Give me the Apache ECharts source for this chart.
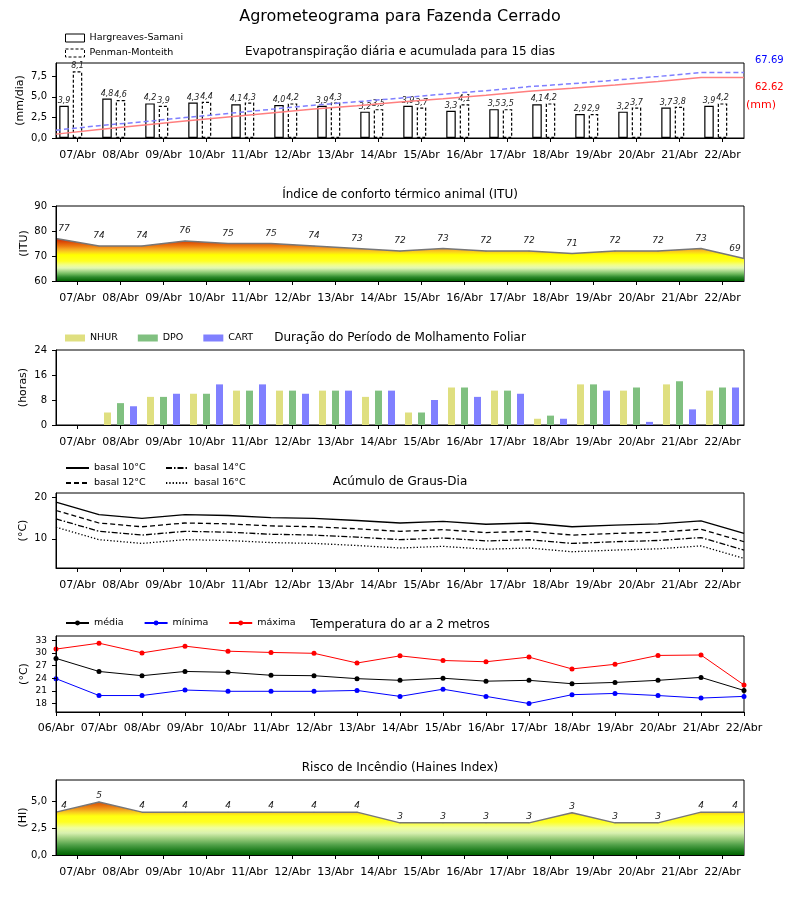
<!DOCTYPE html>
<html><head><meta charset="utf-8">
<script src="https://cdn.jsdelivr.net/npm/echarts@6/dist/echarts.min.js"></script>
<style>html,body{margin:0;padding:0;background:#fff}#c{width:800px;height:900px}</style>
</head><body><div id="c"></div>
<script>
// ---------- DATA ----------
const days16 = ['07/Abr','08/Abr','09/Abr','10/Abr','11/Abr','12/Abr','13/Abr','14/Abr','15/Abr','16/Abr','17/Abr','18/Abr','19/Abr','20/Abr','21/Abr','22/Abr'];
const days17 = ['06/Abr','07/Abr','08/Abr','09/Abr','10/Abr','11/Abr','12/Abr','13/Abr','14/Abr','15/Abr','16/Abr','17/Abr','18/Abr','19/Abr','20/Abr','21/Abr','22/Abr'];

const etHS = [3.9,4.8,4.2,4.3,4.1,4.0,3.9,3.2,3.9,3.3,3.5,4.1,2.9,3.2,3.7,3.9];
const etPM = [8.1,4.6,3.9,4.4,4.3,4.2,4.3,3.5,3.7,4.1,3.5,4.2,2.9,3.7,3.8,4.2];
const etHSacc = [4.0,8.9,13.2,17.6,21.8,25.9,29.9,33.2,37.2,40.6,44.2,48.4,51.4,54.7,58.5,62.62,62.62];
const etPMacc = [8.1,12.7,16.7,21.1,25.4,29.6,33.9,37.5,41.2,45.3,48.9,53.1,56.1,59.8,63.6,67.69,67.69];
const etTotals = ['67.69','62.62'];

const itu = [77,74,74,76,75,75,74,73,72,73,72,72,71,72,72,73,69];

const nhur = [0,4,9,10,11,11,11,9,4,12,11,2,13,11,13,11];
const dpo  = [0,7,9,10,11,11,11,11,4,12,11,3,13,12,14,12];
const cart = [0,6,10,13,13,10,11,11,8,9,10,2,11,1,5,12];

const gd10 = [18.8,15.8,14.9,15.8,15.6,15.1,14.9,14.4,13.8,14.2,13.5,13.8,12.9,13.3,13.6,14.3,11.3];
const gd12 = [16.8,13.8,12.9,13.8,13.6,13.1,12.9,12.4,11.8,12.2,11.5,11.8,10.9,11.3,11.6,12.3,9.3];
const gd14 = [14.8,11.8,10.9,11.8,11.6,11.1,10.9,10.4,9.8,10.2,9.5,9.8,8.9,9.3,9.6,10.3,7.3];
const gd16 = [12.8,9.8,8.9,9.8,9.6,9.1,8.9,8.4,7.8,8.2,7.5,7.8,6.9,7.3,7.6,8.3,5.3];

const tMed = [28.7,25.6,24.6,25.6,25.4,24.7,24.6,23.9,23.5,24.0,23.3,23.5,22.7,23.0,23.5,24.2,21.1];
const tMin = [23.9,19.9,19.9,21.2,20.9,20.9,20.9,21.1,19.7,21.4,19.7,18.0,20.1,20.4,19.9,19.3,19.7];
const tMax = [30.9,32.3,30.0,31.6,30.4,30.1,29.9,27.6,29.3,28.2,27.9,29.0,26.2,27.3,29.4,29.5,22.4];

const haines = [4,4.95,4,4,4,4,4,4,3,3,3,3,3.95,3,3,4,4];
const hainesLabels = ['4','5','4','4','4','4','4','4','3','3','3','3','3','3','3','4','4'];

const ticksET = [0,2.5,5,7.5];
const ticksGD = [10,20];
const ticksT = [18,21,24,27,30,33];
const ticksHI = [0,2.5,5];

// ---------- LAYOUT / STYLE ----------
const FONT = 'DejaVu Sans';
const G = [{top:63,h:75},{top:206,h:75},{top:350,h:75},{top:493,h:75},{top:636,h:76},{top:780,h:75}];
const comma1 = v => Number(v).toFixed(1).replace('.', ',');
const grid = G.map(g => ({left:56, right:56, top:g.top, height:g.h, show:true, borderColor:'#000', borderWidth:1, backgroundColor:'transparent'}));

function visX(gi, data, bgap, margin) {
  return {type:'category', gridIndex:gi, data:data, boundaryGap:bgap, z:5,
    axisLine:{show:true, lineStyle:{color:'#000', width:1}},
    axisTick:{show:true, alignWithLabel:true, length:4, interval:0, lineStyle:{color:'#000'}},
    axisLabel:{show:true, interval:0, color:'#000', fontFamily:FONT, fontSize:11, margin:margin},
    splitLine:{show:false}};
}
function hidX(gi) {
  return {type:'category', gridIndex:gi, data:days17, boundaryGap:false, show:false};
}
function valY(gi, min, max, name, gap, opts) {
  const o = {type:'value', gridIndex:gi, min:min, max:max, z:5,
    splitLine:{show:false},
    axisLine:{show:true, lineStyle:{color:'#000', width:1}},
    axisTick:{show:true, length:4, lineStyle:{color:'#000'}},
    axisLabel:{color:'#000', fontFamily:FONT, fontSize:10, margin:9},
    name:name, nameLocation:'middle', nameGap:gap, nameMoveOverlap:false,
    nameTextStyle:{color:'#000', fontFamily:FONT, fontSize:11}};
  if (opts.interval) o.interval = opts.interval;
  if (opts.custom) { o.axisTick.customValues = opts.custom; o.axisLabel.customValues = opts.custom; }
  if (opts.fmt) o.axisLabel.formatter = opts.fmt;
  if (opts.fontSize) o.axisLabel.fontSize = opts.fontSize;
  return o;
}

const G2top = G[1].top, G2bot = G[1].top + G[1].h;
const ituGrad = new echarts.graphic.LinearGradient(0, G2top, 0, G2bot, [
  {offset:0, color:'#b00000'},
  {offset:0.43, color:'#c8200a'},
  {offset:0.48, color:'#dc4c06'},
  {offset:0.533, color:'#ec7a10'},
  {offset:0.573, color:'#f5a623'},
  {offset:0.613, color:'#fbd31c'},
  {offset:0.653, color:'#ffff00'},
  {offset:0.733, color:'#ffff22'},
  {offset:0.787, color:'#f2ff8a'},
  {offset:0.827, color:'#e2f8b4'},
  {offset:0.867, color:'#a8d88c'},
  {offset:0.907, color:'#6cb85c'},
  {offset:0.947, color:'#2e8a2e'},
  {offset:1, color:'#006400'}
], true);
const G6top = G[5].top, G6bot = G[5].top + G[5].h;
const hiGrad = new echarts.graphic.LinearGradient(0, G6top, 0, G6bot, [
  {offset:0, color:'#b00000'},
  {offset:0.28, color:'#d24a08'},
  {offset:0.333, color:'#e36a0c'},
  {offset:0.387, color:'#f09a1c'},
  {offset:0.427, color:'#f8c820'},
  {offset:0.48, color:'#ffff10'},
  {offset:0.56, color:'#ffff22'},
  {offset:0.64, color:'#f0ffa0'},
  {offset:0.707, color:'#d8f0b0'},
  {offset:0.773, color:'#a0d080'},
  {offset:0.867, color:'#50a048'},
  {offset:0.947, color:'#1a7a1a'},
  {offset:1, color:'#006400'}
], true);

function edgeLabels(arr) {
  const n = arr.length;
  return arr.map((v, i) => i === 0 ? {value:v, label:{offset:[8,0]}} : (i === n-1 ? {value:v, label:{offset:[-9,0]}} : v));
}
const lblStyle = {color:'#222', fontFamily:FONT, fontSize:9, fontStyle:'italic'};
const titleStyle = {color:'#000', fontFamily:FONT, fontSize:12, fontWeight:'normal'};
const legText = {color:'#000', fontFamily:FONT, fontSize:9.5};

const option = {
  animation:false,
  backgroundColor:'#fff',
  textStyle:{fontFamily:FONT},
  title:[
    {text:'Agrometeograma para Fazenda Cerrado', left:'center', top:9, padding:0, textStyle:{color:'#000', fontFamily:FONT, fontSize:16, fontWeight:'normal'}},
    {text:'Evapotranspiração diária e acumulada para 15 dias', left:'center', top:46, padding:0, textStyle:titleStyle},
    {text:'Índice de conforto térmico animal (ITU)', left:'center', top:189, padding:0, textStyle:titleStyle},
    {text:'Duração do Período de Molhamento Foliar', left:'center', top:332, padding:0, textStyle:titleStyle},
    {text:'Acúmulo de Graus-Dia', left:'center', top:476, padding:0, textStyle:titleStyle},
    {text:'Temperatura do ar a 2 metros', left:'center', top:619, padding:0, textStyle:titleStyle},
    {text:'Risco de Incêndio (Haines Index)', left:'center', top:762, padding:0, textStyle:titleStyle}
  ],
  legend:[
    {orient:'vertical', left:65, top:33, itemWidth:19, itemHeight:8, itemGap:5, selectedMode:false, textStyle:legText, padding:0,
      data:[{name:'Hargreaves-Samani', icon:'rect', itemStyle:{color:'#fff', borderColor:'#000', borderWidth:1}},
            {name:'Penman-Monteith', icon:'rect', itemStyle:{color:'#fff', borderColor:'#000', borderWidth:1, borderType:[3,2]}}]},
    {orient:'horizontal', left:65, top:333, itemWidth:20, itemHeight:7, itemGap:20, selectedMode:false, textStyle:legText, padding:0,
      data:[{name:'NHUR', icon:'rect'},{name:'DPO', icon:'rect'},{name:'CART', icon:'rect'}]},
    {orient:'vertical', left:65, top:463, itemWidth:23, itemHeight:8, itemGap:5, selectedMode:false, textStyle:legText, padding:0,
      itemStyle:{opacity:0}, data:['basal 10°C','basal 12°C']},
    {orient:'vertical', left:165, top:463, itemWidth:23, itemHeight:8, itemGap:5, selectedMode:false, textStyle:legText, padding:0,
      itemStyle:{opacity:0}, data:['basal 14°C','basal 16°C']},
    {orient:'horizontal', left:65, top:618, itemWidth:23, itemHeight:6, itemGap:20, selectedMode:false, textStyle:legText, padding:0,
      data:['média','mínima','máxima']}
  ],
  grid: grid,
  xAxis:[
    visX(0, days16, true, 12), hidX(0),
    visX(1, days16, true, 12), hidX(1),
    visX(2, days16, true, 12),
    visX(3, days16, true, 12), hidX(3),
    visX(4, days17, false, 11),
    visX(5, days16, true, 12), hidX(5)
  ],
  yAxis:[
    valY(0, 0, 9.1, '(mm/dia)', 30, {custom:ticksET, fmt:comma1}),
    {type:'value', gridIndex:0, min:0, max:77.5, show:false, splitLine:{show:false}},
    valY(1, 60, 90, '(ITU)', 26, {interval:10}),
    valY(2, 0, 24, '(horas)', 27, {interval:8}),
    valY(3, 3, 21, '(°C)', 27, {custom:ticksGD}),
    valY(4, 16, 34, '(°C)', 26, {custom:ticksT, fontSize:9}),
    valY(5, 0, 7, '(HI)', 27, {custom:ticksHI, fmt:comma1})
  ],
  graphic:[
    {type:'text', left:755, top:55, style:{text:etTotals[0], fill:'#0000ff', font:'10px "DejaVu Sans"'}},
    {type:'text', left:755, top:82, style:{text:etTotals[1], fill:'#ff0000', font:'10px "DejaVu Sans"'}},
    {type:'text', left:746, top:100, style:{text:'(mm)', fill:'#ff0000', font:'11px "DejaVu Sans"'}}
  ],
  series:[
    // Panel 1
    {type:'bar', name:'Hargreaves-Samani', xAxisIndex:0, yAxisIndex:0, data:etHS, barWidth:9.5, barGap:'42%',
      itemStyle:{color:'#fff', borderColor:'#000', borderWidth:1.2},
      label:{show:true, position:'top', distance:1, color:'#222', fontFamily:FONT, fontSize:8, fontStyle:'italic', formatter:p=>comma1(p.value)}},
    {type:'bar', name:'Penman-Monteith', xAxisIndex:0, yAxisIndex:0, data:etPM, barWidth:9.5, barGap:'42%',
      itemStyle:{color:'#fff', borderColor:'#000', borderWidth:1.2, borderType:[3,2]},
      label:{show:true, position:'top', distance:1, color:'#222', fontFamily:FONT, fontSize:8, fontStyle:'italic', formatter:p=>comma1(p.value)}},
    {type:'bar', name:'spacer', xAxisIndex:0, yAxisIndex:0, data:[], barWidth:9.5, barGap:'42%', silent:true},
    {type:'line', name:'acumHS', xAxisIndex:1, yAxisIndex:1, data:etHSacc, symbol:'none', z:6, silent:true,
      lineStyle:{color:'#ff7f7f', width:1.5}},
    {type:'line', name:'acumPM', xAxisIndex:1, yAxisIndex:1, data:etPMacc, symbol:'none', z:6, silent:true,
      lineStyle:{color:'#7f7fff', width:1.5, type:[5,3]}},
    // Panel 2
    {type:'line', name:'ITU', xAxisIndex:3, yAxisIndex:2, data:edgeLabels(itu), symbol:'circle', symbolSize:1, silent:true,
      itemStyle:{color:'#777'}, lineStyle:{color:'#777', width:1.5},
      areaStyle:{color:ituGrad, opacity:1, origin:'start'},
      label:Object.assign({show:true, position:'top', distance:5}, lblStyle)},
    // Panel 3
    {type:'bar', name:'NHUR', xAxisIndex:4, yAxisIndex:3, data:nhur, barWidth:7, barGap:'86%', itemStyle:{color:'#dfdf80'}},
    {type:'bar', name:'DPO', xAxisIndex:4, yAxisIndex:3, data:dpo, barWidth:7, barGap:'86%', itemStyle:{color:'#80c080'}},
    {type:'bar', name:'CART', xAxisIndex:4, yAxisIndex:3, data:cart, barWidth:7, barGap:'86%', itemStyle:{color:'#8080ff'}},
    // Panel 4
    {type:'line', name:'basal 10°C', xAxisIndex:6, yAxisIndex:4, data:gd10, symbol:'none', itemStyle:{color:'#000'}, lineStyle:{color:'#000', width:1.3}},
    {type:'line', name:'basal 12°C', xAxisIndex:6, yAxisIndex:4, data:gd12, symbol:'none', itemStyle:{color:'#000'}, lineStyle:{color:'#000', width:1.3, type:[5,3]}},
    {type:'line', name:'basal 14°C', xAxisIndex:6, yAxisIndex:4, data:gd14, symbol:'none', itemStyle:{color:'#000'}, lineStyle:{color:'#000', width:1.3, type:[6,2,1.5,2]}},
    {type:'line', name:'basal 16°C', xAxisIndex:6, yAxisIndex:4, data:gd16, symbol:'none', itemStyle:{color:'#000'}, lineStyle:{color:'#000', width:1.3, type:[1.3,2]}},
    // Panel 5
    {type:'line', name:'média', xAxisIndex:7, yAxisIndex:5, data:tMed, symbol:'circle', symbolSize:5, itemStyle:{color:'#000'}, lineStyle:{color:'#000', width:1}},
    {type:'line', name:'mínima', xAxisIndex:7, yAxisIndex:5, data:tMin, symbol:'circle', symbolSize:5, itemStyle:{color:'#0000ff'}, lineStyle:{color:'#0000ff', width:1}},
    {type:'line', name:'máxima', xAxisIndex:7, yAxisIndex:5, data:tMax, symbol:'circle', symbolSize:5, itemStyle:{color:'#ff0000'}, lineStyle:{color:'#ff0000', width:1}},
    // Panel 6
    {type:'line', name:'Haines', xAxisIndex:9, yAxisIndex:6, data:edgeLabels(haines), symbol:'circle', symbolSize:1, silent:true,
      itemStyle:{color:'#777'}, lineStyle:{color:'#777', width:1.5},
      areaStyle:{color:hiGrad, opacity:1, origin:'start'},
      label:Object.assign({show:true, position:'top', distance:1, formatter:p=>hainesLabels[p.dataIndex]}, lblStyle)}
  ]
};
const chart = echarts.init(document.getElementById('c'));
chart.setOption(option);
</script>
</body></html>
